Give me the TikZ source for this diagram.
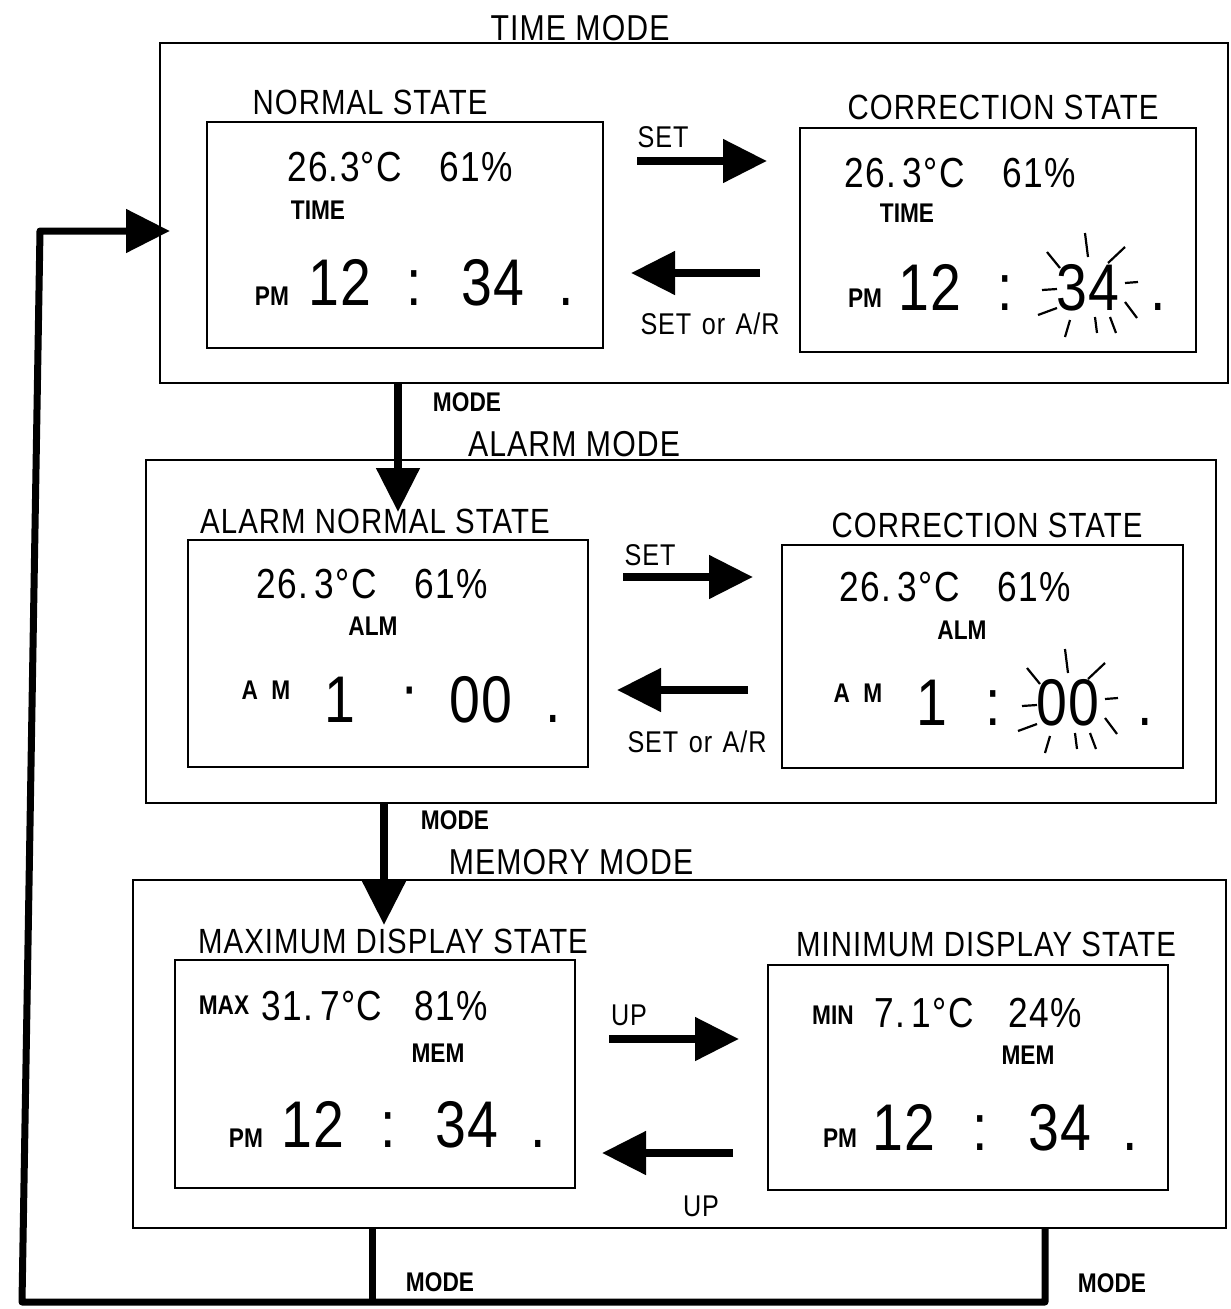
\documentclass[tikz,border=0pt]{standalone}
\usepackage{fontspec}
\setmainfont{Liberation Sans}[FakeStretch=0.84,LetterSpace=3]
\usetikzlibrary{arrows.meta,fit}
\begin{document}
\begin{tikzpicture}[x=1pt,y=-1pt,
 box/.style={draw,line width=1.6pt,inner sep=0pt},
 ttl/.style={font=\fontsize{36}{36}\selectfont},
 statelbl/.style={font=\fontsize{35}{35}\selectfont},
 small/.style={font=\fontsize{27}{27}\selectfont\bfseries\addfontfeature{LetterSpace=0}},
 mid/.style={font=\fontsize{42}{42}\selectfont,anchor=base},
 big/.style={font=\fontsize{66}{66}\selectfont,anchor=base},
 keylbl/.style={font=\fontsize{30}{30}\selectfont},
 fat/.style={line width=8pt,-{Triangle[length=44pt,width=42pt]}},
 loopline/.style={line width=7pt,line join=round},
 ray/.style={line width=2.2pt}
]
\useasboundingbox (0,0) rectangle (1231,1309);

% ---------- TIME MODE ----------
\node[ttl] (ttime) at (580,28) {TIME MODE};
\node[box,fit={(160,43) (1228,383)}] (timemode) {};
\node[statelbl] (lnormal) at (370,102) {NORMAL STATE};
\node[box,fit={(207,122) (603,348)}] (normal) {};
\node[statelbl] (lcorr1) at (1003,107) {CORRECTION STATE};
\node[box,fit={(800,128) (1196,352)}] (corr1) {};

\node[mid] (n1t) at (400,181) {26.3°C\hspace{0.9em}61\%};
\node[small] (n1m) at (318,210) {TIME};
\node[small] (n1p) at (272,296) {PM};
\node[big] (n1h) at (340,305) {12};
\node[big] (n1c) at (414,305) {:};
\node[big] (n1n) at (493,305) {34};
\node[big] (n1d) at (566,305) {.};

\node[mid] (c1t) at (960,187) {26.\,3°C\hspace{0.9em}61\%};
\node[small] (c1m) at (907,213) {TIME};
\node[small] (c1p) at (865,298) {PM};
\node[big] (c1h) at (930,310) {12};
\node[big] (c1c) at (1005,310) {:};
\node[big] (c1n) at (1088,310) {34};
\node[big] (c1d) at (1158,310) {.};
\begin{scope}[shift={(0,0)}]
\draw[ray] (1085,233)--(1088,257);
\draw[ray] (1047,252)--(1060,268);
\draw[ray] (1125,247)--(1108,263);
\draw[ray] (1042,290)--(1057,289);
\draw[ray] (1125,283)--(1138,282);
\draw[ray] (1038,315)--(1057,308);
\draw[ray] (1125,302)--(1137,318);
\draw[ray] (1070,320)--(1065,337);
\draw[ray] (1095,317)--(1097,333);
\draw[ray] (1110,317)--(1116,333);
\end{scope}

\coordinate (s1a) at (637,161); \coordinate (s1b) at (767,161);
\draw[fat] (s1a) -- (s1b);
\node[keylbl] (s1l) at (663,137) {SET};
\coordinate (r1a) at (760,273); \coordinate (r1b) at (631,273);
\draw[fat] (r1a) -- (r1b);
\node[keylbl] (r1l) at (710,324) {SET\hspace{0.35em}or\hspace{0.35em}A/R};

% ---------- MODE arrow 1 ----------
\coordinate (m1a) at (398,383); \coordinate (m1b) at (398,512);
\draw[fat] (m1a) -- (m1b);
\node[small] (m1l) at (467,402) {MODE};

% ---------- ALARM MODE ----------
\node[ttl] (talarm) at (574,444) {ALARM MODE};
\node[box,fit={(146,460) (1216,803)}] (alarmmode) {};
\node[statelbl] (lalarm) at (375,521) {ALARM NORMAL STATE};
\node[box,fit={(188,540) (588,767)}] (alarm) {};
\node[statelbl] (lcorr2) at (987,525) {CORRECTION STATE};
\node[box,fit={(782,545) (1183,768)}] (corr2) {};

\node[mid] (n2t) at (372,598) {26.\,3°C\hspace{0.9em}61\%};
\node[small] (n2m) at (373,626) {ALM};
\node[small] (n2p) at (266,690) {A\hspace{0.5em}M};
\node[big] (n2h) at (340,722) {1};
\node[big] (n2c) at (410,708) {·};
\node[big] (n2n) at (481,722) {00};
\node[big] (n2d) at (553,722) {.};

\node[mid] (c2t) at (955,601) {26.\,3°C\hspace{0.9em}61\%};
\node[small] (c2m) at (962,630) {ALM};
\node[small] (c2p) at (858,693) {A\hspace{0.5em}M};
\node[big] (c2h) at (932,725) {1};
\node[big] (c2c) at (993,725) {:};
\node[big] (c2n) at (1068,725) {00};
\node[big] (c2d) at (1145,725) {.};
\begin{scope}[shift={(-20,416)}]
\draw[ray] (1085,233)--(1088,257);
\draw[ray] (1047,252)--(1060,268);
\draw[ray] (1125,247)--(1108,263);
\draw[ray] (1042,290)--(1057,289);
\draw[ray] (1125,283)--(1138,282);
\draw[ray] (1038,315)--(1057,308);
\draw[ray] (1125,302)--(1137,318);
\draw[ray] (1070,320)--(1065,337);
\draw[ray] (1095,317)--(1097,333);
\draw[ray] (1110,317)--(1116,333);
\end{scope}

\coordinate (s2a) at (623,577); \coordinate (s2b) at (753,577);
\draw[fat] (s2a) -- (s2b);
\node[keylbl] (s2l) at (650,555) {SET};
\coordinate (r2a) at (748,690); \coordinate (r2b) at (617,690);
\draw[fat] (r2a) -- (r2b);
\node[keylbl] (r2l) at (697,742) {SET\hspace{0.35em}or\hspace{0.35em}A/R};

% ---------- MODE arrow 2 ----------
\coordinate (m2a) at (384,803); \coordinate (m2b) at (384,925);
\draw[fat] (m2a) -- (m2b);
\node[small] (m2l) at (455,820) {MODE};

% ---------- MEMORY MODE ----------
\node[ttl] (tmem) at (571,862) {MEMORY MODE};
\node[box,fit={(133,880) (1226,1228)}] (memmode) {};
\node[statelbl] (lmax) at (393,941) {MAXIMUM DISPLAY STATE};
\node[box,fit={(175,960) (575,1188)}] (maxbox) {};
\node[statelbl] (lmin) at (986,944) {MINIMUM DISPLAY STATE};
\node[box,fit={(768,965) (1168,1190)}] (minbox) {};

\node[small] (x1) at (224,1005) {MAX};
\node[mid] (x2) at (322,1020) {31.\,7°C};
\node[mid] (x3) at (451,1020) {81\%};
\node[small] (x4) at (438,1053) {MEM};
\node[small] (x5) at (246,1138) {PM};
\node[big] (x6) at (313,1147) {12};
\node[big] (x7) at (388,1147) {:};
\node[big] (x8) at (467,1147) {34};
\node[big] (x9) at (538,1147) {.};

\node[small] (y1) at (833,1015) {MIN};
\node[mid] (y2) at (924,1027) {7.\,1°C};
\node[mid] (y3) at (1045,1027) {24\%};
\node[small] (y4) at (1028,1055) {MEM};
\node[small] (y5) at (840,1138) {PM};
\node[big] (y6) at (904,1150) {12};
\node[big] (y7) at (980,1150) {:};
\node[big] (y8) at (1060,1150) {34};
\node[big] (y9) at (1130,1150) {.};

\coordinate (u1a) at (609,1039); \coordinate (u1b) at (739,1039);
\draw[fat] (u1a) -- (u1b);
\node[keylbl] (u1l) at (629,1015) {UP};
\coordinate (u2a) at (733,1153); \coordinate (u2b) at (602,1153);
\draw[fat] (u2a) -- (u2b);
\node[keylbl] (u2l) at (701,1206) {UP};

% ---------- return loop ----------
\coordinate (b1) at (372,1228);
\coordinate (b2) at (1045,1228);
\coordinate (c1) at (372,1302);
\coordinate (c2) at (1045,1302);
\coordinate (c3) at (22,1302);
\coordinate (c4) at (40,231);
\coordinate (c5) at (170,231);
\draw[loopline] (b1) -- (c1);
\draw[loopline] (b2) -- (c2) -- (c3) -- (c4) -- ([xshift=-40pt]c5);
\draw[line width=8pt,-{Triangle[length=44pt,width=42pt]}] ([xshift=-44pt]c5) -- (c5);
\node[small] (bm1) at (440,1282) {MODE};
\node[small] (bm2) at (1112,1283) {MODE};
\end{tikzpicture}
\end{document}
